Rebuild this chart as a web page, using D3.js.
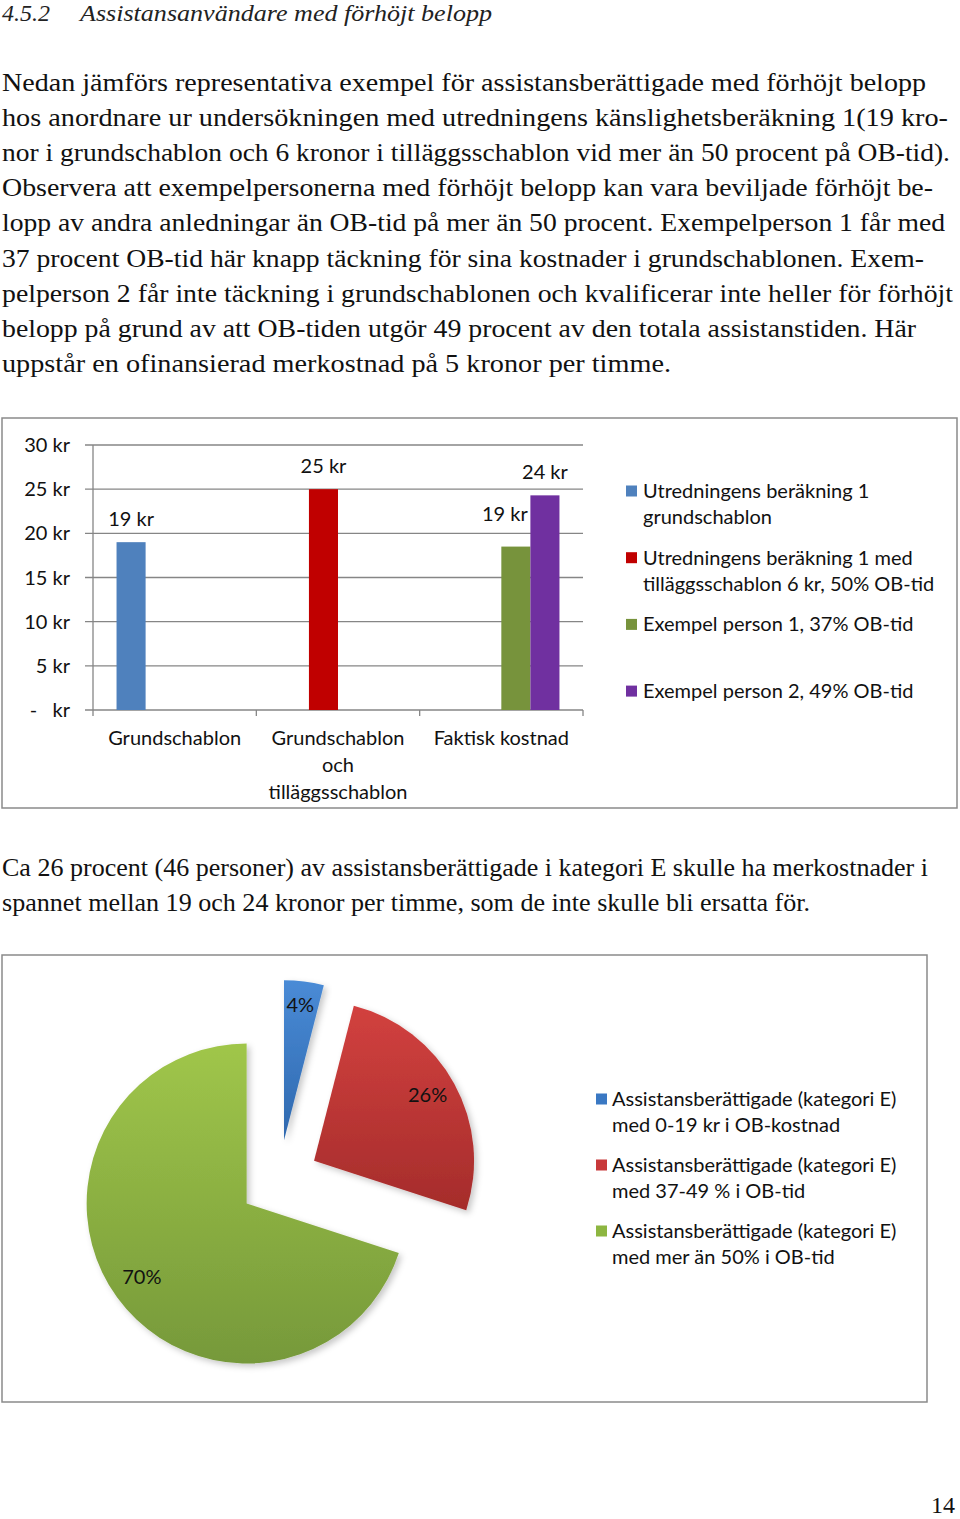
<!DOCTYPE html>
<html>
<head>
<meta charset="utf-8">
<script src="https://cdn.jsdelivr.net/npm/d3@7/dist/d3.min.js"></script>
<style>
  body { margin: 0; background: #fff; }
  svg { display: block; }
</style>
</head>
<body>
<svg id="page" width="960" height="1519"></svg>
<script>
// ---- text of the page ----
const headingNumber = '4.5.2';
const headingTitle = 'Assistansanvändare med förhöjt belopp';
const introLines = [
    'Nedan jämförs representativa exempel för assistansberättigade med förhöjt belopp',
    'hos anordnare ur undersökningen med utredningens känslighetsberäkning 1(19 kro-',
    'nor i grundschablon och 6 kronor i tilläggsschablon vid mer än 50 procent på OB-tid).',
    'Observera att exempelpersonerna med förhöjt belopp kan vara beviljade förhöjt be-',
    'lopp av andra anledningar än OB-tid på mer än 50 procent. Exempelperson 1 får med',
    '37 procent OB-tid här knapp täckning för sina kostnader i grundschablonen. Exem-',
    'pelperson 2 får inte täckning i grundschablonen och kvalificerar inte heller för förhöjt',
    'belopp på grund av att OB-tiden utgör 49 procent av den totala assistanstiden. Här',
    'uppstår en ofinansierad merkostnad på 5 kronor per timme.'
];
const introWidths = [924, 946, 948, 931, 943, 922, 951, 914, 669];
const middleLines = [
    'Ca 26 procent (46 personer) av assistansberättigade i kategori E skulle ha merkostnader i',
    'spannet mellan 19 och 24 kronor per timme, som de inte skulle bli ersatta för.'
];
const middleWidths = [926, 808];
const pageNumber = '14';

// ---- bar chart data ----
const categories = [
    ['Grundschablon'],
    ['Grundschablon', 'och', 'tilläggsschablon'],
    ['Faktisk kostnad']
];
const seriesNames = [
    ['Utredningens beräkning 1', 'grundschablon'],
    ['Utredningens beräkning 1 med', 'tilläggsschablon 6 kr, 50% OB-tid'],
    ['Exempel person 1, 37% OB-tid'],
    ['Exempel person 2, 49% OB-tid']
];
// one row per series, one value per category (null = no bar)
const seriesValues = [
    [19, null, null],
    [null, 25, null],
    [null, null, 18.5],
    [null, null, 24.3]
];
const seriesColors = ['#4f81bd', '#c00000', '#77933c', '#7030a0'];
const yTicks = [0, 5, 10, 15, 20, 25, 30];

// ---- pie chart data ----
const pieLegend = [
    ['Assistansberättigade (kategori E)', 'med 0-19 kr i OB-kostnad'],
    ['Assistansberättigade (kategori E)', 'med 37-49 % i OB-tid'],
    ['Assistansberättigade (kategori E)', 'med mer än 50% i OB-tid']
];
const pieValues = [4, 26, 70];
const pieTop = ['#4a8bd6', '#d2413f', '#a0c64a'];
const pieBottom = ['#2e68ae', '#a52c2b', '#76993a'];
const pieLegendColors = ['#3a78c3', '#c8393a', '#8db641'];

const chartFont = 'Lato, "Open Sans", sans-serif';
const bodyFont = '"Liberation Serif", "Times New Roman", serif';

const svg = d3.select('#page');
svg.append('rect').attr('width', 960).attr('height', 1519).attr('fill', '#fff');

// ---- heading and paragraphs ----
svg.append('text')
    .attr('x', 2).attr('y', 21)
    .attr('font-family', bodyFont).attr('font-style', 'italic')
    .attr('font-size', 24).attr('fill', '#222')
    .text(headingNumber);
svg.append('text')
    .attr('x', 80).attr('y', 21)
    .attr('font-family', bodyFont).attr('font-style', 'italic')
    .attr('font-size', 24).attr('fill', '#222')
    .attr('textLength', 412).attr('lengthAdjust', 'spacingAndGlyphs')
    .text(headingTitle);

svg.append('g').selectAll('text')
    .data(introLines)
    .enter().append('text')
    .attr('x', 2)
    .attr('y', (d, i) => 91 + i * 35.1)
    .attr('font-family', bodyFont)
    .attr('font-size', 26)
    .attr('fill', '#111')
    .attr('textLength', (d, i) => introWidths[i])
    .attr('lengthAdjust', 'spacingAndGlyphs')
    .text(d => d);

svg.append('g').selectAll('text')
    .data(middleLines)
    .enter().append('text')
    .attr('x', 2)
    .attr('y', (d, i) => 876 + i * 34.5)
    .attr('font-family', bodyFont)
    .attr('font-size', 25)
    .attr('fill', '#111')
    .attr('textLength', (d, i) => middleWidths[i])
    .attr('lengthAdjust', 'spacingAndGlyphs')
    .text(d => d);

svg.append('text')
    .attr('x', 955).attr('y', 1513)
    .attr('text-anchor', 'end')
    .attr('font-family', bodyFont).attr('font-size', 24).attr('fill', '#111')
    .text(pageNumber);

// ---- bar chart ----
const bar = svg.append('g').attr('font-family', chartFont).attr('font-size', 20).attr('fill', '#111');

bar.append('rect')
    .attr('x', 2).attr('y', 418).attr('width', 955).attr('height', 390)
    .attr('fill', 'none').attr('stroke', '#8a8a8a').attr('stroke-width', 1.5);

const y = d3.scaleLinear().domain([0, 30]).range([710, 445]);
const x0 = d3.scaleBand().domain(d3.range(categories.length)).range([93, 583]);
const x1 = d3.scaleBand().domain(d3.range(seriesValues.length))
    .range([0, x0.bandwidth()]).paddingInner(0).paddingOuter(0.81);

bar.append('g').selectAll('line')
    .data(yTicks)
    .enter().append('line')
    .attr('x1', 85).attr('x2', 583)
    .attr('y1', d => y(d)).attr('y2', d => y(d))
    .attr('stroke', '#868686').attr('stroke-width', 1.3);

bar.append('line')
    .attr('x1', 93).attr('x2', 93).attr('y1', y(30)).attr('y2', y(0))
    .attr('stroke', '#868686').attr('stroke-width', 1.3);

bar.append('g').selectAll('line')
    .data(d3.range(categories.length + 1))
    .enter().append('line')
    .attr('x1', d => d < categories.length ? x0(d) : x0.range()[1])
    .attr('x2', d => d < categories.length ? x0(d) : x0.range()[1])
    .attr('y1', y(0)).attr('y2', y(0) + 6)
    .attr('stroke', '#868686').attr('stroke-width', 1.3);

bar.append('g').selectAll('text')
    .data(yTicks)
    .enter().append('text')
    .attr('x', 70)
    .attr('y', d => y(d) + 7)
    .attr('text-anchor', 'end')
    .style('white-space', 'pre')
    .text(d => d === 0 ? '-   kr' : `${d} kr`);

const catLabel = bar.append('g').selectAll('text')
    .data(categories)
    .enter().append('text')
    .attr('x', (d, i) => x0(i) + x0.bandwidth() / 2)
    .attr('y', 745)
    .attr('text-anchor', 'middle');
catLabel.selectAll('tspan')
    .data(d => d)
    .enter().append('tspan')
    .attr('x', function () { return d3.select(this.parentNode).attr('x'); })
    .attr('dy', (d, i) => i === 0 ? 0 : 27)
    .text(d => d);

const bars = [];
seriesValues.forEach((row, s) => {
    row.forEach((v, c) => {
        if (v !== null) bars.push({ s, c, v });
    });
});

bar.append('g').selectAll('rect')
    .data(bars)
    .enter().append('rect')
    .attr('x', d => x0(d.c) + x1(d.s))
    .attr('width', x1.bandwidth())
    .attr('y', d => y(d.v))
    .attr('height', d => y(0) - y(d.v))
    .attr('fill', d => seriesColors[d.s]);

bar.append('g').selectAll('text')
    .data(bars)
    .enter().append('text')
    .attr('x', d => x0(d.c) + x1(d.s) + x1.bandwidth() / 2 - (d.s === 2 ? 11 : 0))
    .attr('y', d => y(d.v) - (d.s === 2 ? 26 : 16))
    .attr('text-anchor', 'middle')
    .text(d => `${Math.round(d.v)} kr`);

const barLegend = bar.append('g').selectAll('g')
    .data(seriesNames)
    .enter().append('g')
    .attr('transform', (d, i) => `translate(626, ${491 + i * 66.7})`);
barLegend.append('rect')
    .attr('x', 0).attr('y', -5.5).attr('width', 11).attr('height', 11)
    .attr('fill', (d, i) => seriesColors[i]);
barLegend.selectAll('text')
    .data(d => d)
    .enter().append('text')
    .attr('x', 17)
    .attr('y', (d, i) => 7 + i * 26)
    .text(d => d);

// ---- pie chart ----
const pieG = svg.append('g').attr('font-family', chartFont).attr('font-size', 20).attr('fill', '#111');

pieG.append('rect')
    .attr('x', 2).attr('y', 955).attr('width', 925).attr('height', 447)
    .attr('fill', 'none').attr('stroke', '#8a8a8a').attr('stroke-width', 1.5);

const defs = svg.append('defs');
const grad = defs.selectAll('linearGradient')
    .data(pieValues)
    .enter().append('linearGradient')
    .attr('id', (d, i) => 'slice' + i)
    .attr('x1', 0).attr('y1', 0).attr('x2', 0).attr('y2', 1);
grad.append('stop').attr('offset', '0%').attr('stop-color', (d, i) => pieTop[i]);
grad.append('stop').attr('offset', '100%').attr('stop-color', (d, i) => pieBottom[i]);

const shadow = defs.append('filter').attr('id', 'shadow')
    .attr('x', '-20%').attr('y', '-20%').attr('width', '140%').attr('height', '140%');
shadow.append('feDropShadow')
    .attr('dx', 3).attr('dy', 3).attr('stdDeviation', 3)
    .attr('flood-color', '#000').attr('flood-opacity', 0.22);

const radius = 160;
const explode = 40;
const pie = d3.pie().sort(null).value(d => d);
const arc = d3.arc().innerRadius(0).outerRadius(radius);
const labelArc = d3.arc().innerRadius(radius * 0.81).outerRadius(radius * 0.81);

const slices = pieG.append('g')
    .attr('transform', 'translate(279, 1180)')
    .selectAll('g')
    .data(pie(pieValues))
    .enter().append('g')
    .attr('transform', d => {
        const mid = (d.startAngle + d.endAngle) / 2;
        return `translate(${explode * Math.sin(mid)}, ${-explode * Math.cos(mid)})`;
    });

slices.append('path')
    .attr('d', arc)
    .attr('fill', (d, i) => `url(#slice${i})`)
    .attr('filter', 'url(#shadow)');

slices.append('text')
    .attr('transform', d => `translate(${labelArc.centroid(d)})`)
    .attr('dy', (d, i) => i === 0 ? '0' : '0.2em')
    .attr('text-anchor', 'middle')
    .text(d => `${d.data}%`);

const pieLeg = pieG.append('g').selectAll('g')
    .data(pieLegend)
    .enter().append('g')
    .attr('transform', (d, i) => `translate(596, ${1099 + i * 66})`);
pieLeg.append('rect')
    .attr('x', 0).attr('y', -5.5).attr('width', 11).attr('height', 11)
    .attr('fill', (d, i) => pieLegendColors[i]);
pieLeg.selectAll('text')
    .data(d => d)
    .enter().append('text')
    .attr('x', 16)
    .attr('y', (d, i) => 7 + i * 26)
    .text(d => d);
</script>
</body>
</html>
